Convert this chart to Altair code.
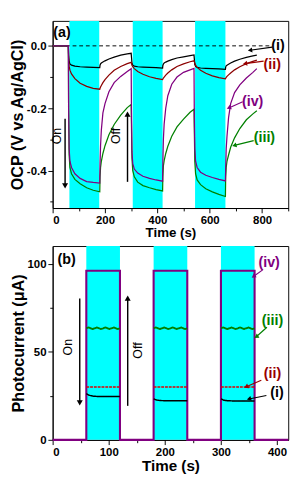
import altair as alt
import pandas as pd

FONT = "Liberation Sans"

# ---------------- Panel (a): open-circuit potential ----------------
time_a = [0, 60,
          61, 63, 66, 72, 85, 105, 130, 155, 180,
          181, 183, 186, 192, 200, 215, 235, 260, 285, 300,
          301, 303, 306, 312, 325, 345, 370, 395, 420,
          421, 423, 426, 432, 440, 455, 475, 500, 525, 540,
          541, 543, 546, 552, 565, 585, 610, 635, 660,
          661, 663, 666, 672, 680, 695, 715, 740, 765, 780]
ocp_i = [0, 0,
         -0.030, -0.050, -0.058, -0.062, -0.065, -0.067, -0.068, -0.069, -0.070,
         -0.062, -0.058, -0.055, -0.052, -0.048, -0.042, -0.036, -0.030, -0.026, -0.024,
         -0.035, -0.055, -0.062, -0.065, -0.067, -0.068, -0.069, -0.070, -0.071,
         -0.063, -0.058, -0.055, -0.052, -0.049, -0.044, -0.039, -0.035, -0.031, -0.029,
         -0.040, -0.060, -0.066, -0.069, -0.071, -0.072, -0.073, -0.074, -0.075,
         -0.068, -0.064, -0.062, -0.059, -0.055, -0.049, -0.043, -0.037, -0.032, -0.030]
ocp_ii = [0, 0,
          -0.040, -0.065, -0.078, -0.090, -0.105, -0.120, -0.130, -0.136, -0.139,
          -0.136, -0.132, -0.127, -0.118, -0.108, -0.094, -0.078, -0.066, -0.057, -0.053,
          -0.056, -0.062, -0.067, -0.073, -0.082, -0.091, -0.099, -0.104, -0.108,
          -0.106, -0.103, -0.100, -0.094, -0.087, -0.077, -0.066, -0.058, -0.051, -0.048,
          -0.050, -0.056, -0.062, -0.069, -0.078, -0.088, -0.096, -0.102, -0.106,
          -0.104, -0.101, -0.098, -0.093, -0.087, -0.077, -0.067, -0.057, -0.050, -0.046]
ocp_iii = [0, 0,
           -0.200, -0.350, -0.390, -0.410, -0.428, -0.442, -0.455, -0.463, -0.468,
           -0.420, -0.390, -0.370, -0.345, -0.320, -0.285, -0.252, -0.222, -0.198, -0.188,
           -0.250, -0.360, -0.400, -0.420, -0.437, -0.448, -0.455, -0.461, -0.465,
           -0.420, -0.385, -0.368, -0.345, -0.322, -0.290, -0.260, -0.235, -0.213, -0.203,
           -0.260, -0.370, -0.410, -0.430, -0.445, -0.458, -0.468, -0.476, -0.483,
           -0.420, -0.390, -0.370, -0.350, -0.325, -0.295, -0.265, -0.237, -0.218, -0.208]
ocp_iv = [0, 0,
          -0.200, -0.330, -0.370, -0.390, -0.410, -0.425, -0.435, -0.438, -0.440,
          -0.380, -0.320, -0.270, -0.215, -0.185, -0.147, -0.118, -0.098, -0.082, -0.073,
          -0.200, -0.340, -0.378, -0.395, -0.408, -0.418, -0.425, -0.430, -0.434,
          -0.370, -0.300, -0.250, -0.200, -0.160, -0.123, -0.100, -0.085, -0.077, -0.072,
          -0.200, -0.330, -0.370, -0.390, -0.405, -0.415, -0.422, -0.428, -0.433,
          -0.390, -0.330, -0.290, -0.230, -0.185, -0.150, -0.125, -0.103, -0.085, -0.073]
light_a_start = [64, 306, 544]
light_a_end = [178, 420, 660]
zero_line_a = [0, 835]

series_names = ["(i)", "(ii)", "(iii)", "(iv)"]
series_colors_a = ["#000000", "#8B0000", "#008000", "#800080"]
series_colors_b = ["#000000", "#E00000", "#008000", "#800080"]
label_colors = ["#000000", "#990000", "#008000", "#800080"]

A_XDOM = [0, 900]
A_YDOM = [-0.52, 0.08]

a_lab_x = [861, 839, 809, 764]
a_lab_y = [0.003, -0.059, -0.292, -0.176]
a_arr_x1 = [839, 806, 768, 726]
a_arr_y1 = [-0.004, -0.049, -0.304, -0.179]
a_arr_x2 = [754, 735, 694, 673]
a_arr_y2 = [-0.014, -0.057, -0.319, -0.199]
a_arr_angle = [352, 352, 346, 336]

a_onoff_text = ["On", "Off"]
a_onoff_tx = [18, 244]
a_onoff_ty = [-0.289, -0.289]
a_onoff_ax = [47.5, 286]
a_onoff_y1 = [-0.234, -0.436]
a_onoff_y2 = [-0.449, -0.219]
a_onoff_head = ["triangle-down", "triangle-up"]

# ---------------- Panel (b): photocurrent ----------------
pc_time_iv = [0, 60, 60, 120, 120, 180, 180, 240, 240, 300, 300, 360, 360, 420]
pc_iv = [0, 0, 96, 96, 0, 0, 96, 96, 0, 0, 96, 96, 0, 0]
pc_on_start = [60, 180, 300]
pc_on_end = [120, 240, 360]
pc_wave_dt = [0, 4, 8, 11, 15, 19, 23, 26, 30, 34, 38, 41, 45, 49, 53, 56, 60]
pc_iii_wave = [63.3, 63.8, 63.3, 62.9, 63.3, 63.8, 63.3, 62.9, 63.3,
               63.8, 63.3, 62.9, 63.3, 63.8, 63.3, 62.9, 63.3]
pc_ii_dt = [0, 60]
pc_ii = [30, 30]
pc_i_dt = [0, 5, 12, 20, 60]
pc_i_periods = [[26.2, 25.3, 24.8, 24.6, 24.6],
                [23.3, 22.6, 22.3, 22.2, 22.2],
                [23.3, 22.5, 22.2, 22.1, 22.1]]

B_XDOM = [0, 420]
B_YDOM = [0, 110]

b_lab_x = [400, 392, 392, 386]
b_lab_y = [26.8, 37.6, 67.8, 100.6]
b_arr_x1 = [381, 372, 382, 375]
b_arr_y1 = [25.2, 33.8, 63.9, 96.6]
b_arr_x2 = [350, 345, 363, 358]
b_arr_y2 = [23.2, 30.1, 58.5, 92.7]
b_arr_angle = [344, 335, 328, 324]

b_onoff_text = ["On", "Off"]
b_onoff_tx = [27.8, 151.7]
b_onoff_ty = [52.6, 50.7]
b_onoff_ax = [48.3, 133.8]
b_onoff_y1 = [80.2, 19.3]
b_onoff_y2 = [21.0, 80.4]

# ---------------- build tables ----------------
rows = []
for name, vals in zip(series_names, [ocp_i, ocp_ii, ocp_iii, ocp_iv]):
    for t, v in zip(time_a, vals):
        rows.append({"t": t, "v": v, "s": name})
df_a = pd.DataFrame(rows)
df_light_a = pd.DataFrame({"x": light_a_start, "x2": light_a_end})
df_zero = pd.DataFrame({"x": [zero_line_a[0]], "x2": [zero_line_a[1]], "y": [0.0]})
df_alab = pd.DataFrame({"x": a_lab_x, "y": a_lab_y, "text": series_names, "c": label_colors,
                        "x1": a_arr_x1, "y1": a_arr_y1, "x2": a_arr_x2, "y2": a_arr_y2,
                        "ang": a_arr_angle, "shape": ["triangle-left"] * 4})
df_aon = pd.DataFrame({"text": a_onoff_text, "tx": a_onoff_tx, "ty": a_onoff_ty,
                       "x": a_onoff_ax, "y1": a_onoff_y1, "y2": a_onoff_y2,
                       "shape": a_onoff_head, "ang": [0, 0]})

rows = []
idx = 0
for t, v in zip(pc_time_iv, pc_iv):
    rows.append({"t": t, "v": v, "s": "(iv)", "seg": "iv", "o": idx})
    idx += 1
for k, st in enumerate(pc_on_start):
    for dt, v in zip(pc_wave_dt, pc_iii_wave):
        rows.append({"t": st + dt, "v": v, "s": "(iii)", "seg": f"iii{k}", "o": idx}); idx += 1
    for dt, v in zip(pc_ii_dt, pc_ii):
        rows.append({"t": st + dt, "v": v, "s": "(ii)", "seg": f"ii{k}", "o": idx}); idx += 1
    for dt, v in zip(pc_i_dt, pc_i_periods[k]):
        rows.append({"t": st + dt, "v": v, "s": "(i)", "seg": f"i{k}", "o": idx}); idx += 1
df_b = pd.DataFrame(rows)
df_light_b = pd.DataFrame({"x": pc_on_start, "x2": pc_on_end})
df_blab = pd.DataFrame({"x": b_lab_x, "y": b_lab_y, "text": series_names, "c": label_colors,
                        "x1": b_arr_x1, "y1": b_arr_y1, "x2": b_arr_x2, "y2": b_arr_y2,
                        "ang": b_arr_angle, "shape": ["triangle-left"] * 4})
df_bon = pd.DataFrame({"text": b_onoff_text, "tx": b_onoff_tx, "ty": b_onoff_ty,
                       "x": b_onoff_ax, "y1": b_onoff_y1, "y2": b_onoff_y2,
                       "shape": ["triangle-down", "triangle-up"], "ang": [0, 0]})


def sx(dom):
    return alt.Scale(domain=dom, nice=False, zero=False)


def panel(df_lines, df_light, df_lab, df_on, xdom, ydom, xaxis, yaxis, w, h,
          letter, letter_xy, colors, extra=None, b_panel=False):
    X = lambda f: alt.X(f"{f}:Q", scale=sx(xdom), axis=xaxis)
    Y = lambda f: alt.Y(f"{f}:Q", scale=sx(ydom), axis=yaxis)
    shade = alt.Chart(df_light).mark_rect(color="#00FFFF").encode(
        x=X("x"), x2="x2:Q")
    enc = dict(x=X("t"), y=Y("v"),
               color=alt.Color("s:N", scale=alt.Scale(domain=series_names, range=colors),
                               legend=None))
    if b_panel:
        lines = alt.Chart(df_lines).mark_line().encode(
            detail="seg:N", order="o:Q",
            strokeDash=alt.StrokeDash("s:N", scale=alt.Scale(
                domain=series_names, range=[[1, 0], [3, 1], [1, 0], [1, 0]]), legend=None),
            strokeWidth=alt.StrokeWidth("s:N", scale=alt.Scale(
                domain=series_names, range=[1.5, 2.2, 1.4, 1.5]), legend=None),
            **enc)
    else:
        lines = alt.Chart(df_lines).mark_line(strokeWidth=1.3).encode(
            detail="s:N", **enc)
    arrows = alt.Chart(df_lab).mark_rule(strokeWidth=1.2).encode(
        x=X("x1"), y=Y("y1"), x2="x2:Q", y2="y2:Q", color=alt.Color("c:N", scale=None))
    heads = alt.Chart(df_lab).mark_point(filled=True, size=28, opacity=1).encode(
        x=X("x2"), y=Y("y2"), color=alt.Color("c:N", scale=None),
        shape=alt.Shape("shape:N", scale=None), angle=alt.Angle("ang:Q", scale=None))
    texts = alt.Chart(df_lab).mark_text(font=FONT, fontSize=15, fontWeight="bold").encode(
        x=X("x"), y=Y("y"), text="text:N", color=alt.Color("c:N", scale=None))
    on_rule = alt.Chart(df_on).mark_rule(strokeWidth=1.5, color="black").encode(
        x=X("x"), y=Y("y1"), y2="y2:Q")
    on_head = alt.Chart(df_on).mark_point(filled=True, size=40, opacity=1, color="black").encode(
        x=X("x"), y=Y("y2"), shape=alt.Shape("shape:N", scale=None))
    on_text = alt.Chart(df_on).mark_text(font=FONT, fontSize=13, angle=270, color="black").encode(
        x=X("tx"), y=Y("ty"), text="text:N")
    df_letter = pd.DataFrame({"x": [letter_xy[0]], "y": [letter_xy[1]], "text": [letter]})
    letter_t = alt.Chart(df_letter).mark_text(font=FONT, fontSize=15, fontWeight="bold",
                                              color="black").encode(
        x=X("x"), y=Y("y"), text="text:N")
    parts = [shade]
    if extra is not None:
        parts.append(extra(X, Y))
    parts += [lines, arrows, heads, texts, on_rule, on_head, on_text, letter_t]
    return alt.layer(*parts).properties(width=w, height=h)


def zero_layer(X, Y):
    return alt.Chart(df_zero).mark_rule(strokeDash=[4, 3], strokeWidth=1, color="black").encode(
        x=X("x"), x2="x2:Q", y=Y("y"))


common_axis = dict(grid=False, tickColor="black", domainColor="black", labelColor="black",
                   titleColor="black", labelFont=FONT, titleFont=FONT, labelFontWeight="bold",
                   titleFontWeight="bold", labelFontSize=12, labelPadding=2, tickWidth=1,
                   domainWidth=1)

ax_a_x = alt.Axis(values=[0, 100, 200, 300, 400, 500, 600, 700, 800, 900],
                  labelExpr="datum.value % 200 === 0 && datum.value < 900 ? datum.label : ''",
                  tickSize={"condition": {"test": "datum.value % 200 === 0", "value": 5}, "value": 3},
                  title="Time (s)", titleFontSize=14, titlePadding=1, **common_axis)
ax_a_y = alt.Axis(values=[-0.5, -0.4, -0.3, -0.2, -0.1, 0.0],
                  labelExpr="abs(round(datum.value*10)) % 2 === 0 ? replace(format(datum.value, '.1f'), '\u2212', '-') : ''",
                  tickSize={"condition": {"test": "abs(round(datum.value*10)) % 2 === 0", "value": 5}, "value": 3},
                  title="OCP (V vs Ag/AgCl)", titleFontSize=17, titlePadding=0, **common_axis)
ax_b_x = alt.Axis(values=[0, 50, 100, 150, 200, 250, 300, 350, 400],
                  labelExpr="datum.value % 100 === 0 ? datum.label : ''",
                  tickSize={"condition": {"test": "datum.value % 100 === 0", "value": 5}, "value": 3},
                  title="Time (s)", titleFontSize=16, titlePadding=1, **common_axis)
ax_b_y = alt.Axis(values=[0, 25, 50, 75, 100],
                  labelExpr="datum.value % 50 === 0 ? datum.label : ''",
                  tickSize={"condition": {"test": "datum.value % 50 === 0", "value": 5}, "value": 3},
                  title="Photocurrent (\u03bcA)", titleFontSize=17, titlePadding=0, **common_axis)

panel_a = panel(df_a, df_light_a, df_alab, df_aon, A_XDOM, A_YDOM, ax_a_x, ax_a_y,
                248, 197, "(a)", (36, 0.043), series_colors_a, extra=zero_layer)
panel_b = panel(df_b, df_light_b, df_blab, df_bon, B_XDOM, B_YDOM, ax_b_x, ax_b_y,
                248, 204, "(b)", (25, 102.4), series_colors_b, b_panel=True)

chart = alt.vconcat(panel_a, panel_b, spacing=5).resolve_scale(
    color="independent", strokeDash="independent", strokeWidth="independent"
).properties(
    padding={"left": 0, "top": 0, "right": 0, "bottom": 0}, background="white"
).configure_view(stroke="black", strokeWidth=1)

chart.save("out.html", embed_options={"renderer": "svg", "actions": False})
